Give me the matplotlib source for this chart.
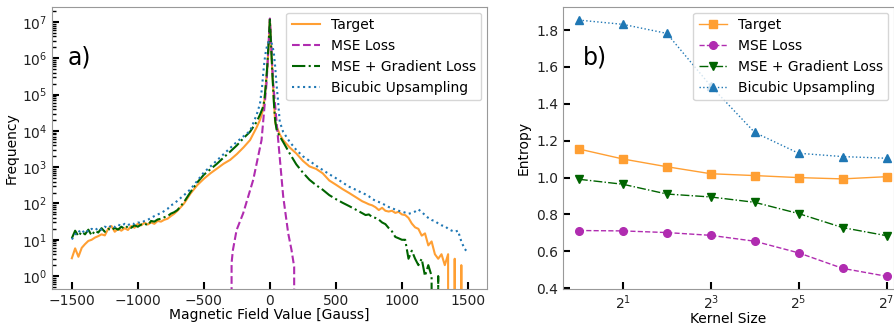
import numpy as np
import matplotlib
matplotlib.use("Agg")
import matplotlib.pyplot as plt
from matplotlib.ticker import NullLocator, NullFormatter

# ---- panel a) histogram of magnetic field values ----
field_bins = [-1500, -1475, -1450, -1425, -1400, -1375, -1350, -1325, -1300, -1275,
              -1250, -1225, -1200, -1175, -1150, -1125, -1100, -1075, -1050, -1025,
              -1000, -975, -950, -925, -900, -875, -850, -825, -800, -775,
              -750, -725, -700,
              -650, -600, -550, -500, -450, -400, -350, -300, -250, -200,
              -150, -100, -75, -60, -50, -40, -30, -20, -10, 0,
              10, 20, 30, 40, 50, 60, 75, 100, 150, 200,
              250, 300, 350, 400, 450, 500, 550, 600, 650,
              700, 725, 750, 775, 800, 825, 850, 875, 900, 925,
              950, 975, 1000, 1025, 1050, 1075, 1100, 1125, 1150, 1175,
              1200, 1225, 1250, 1275, 1300, 1325, 1350, 1375, 1400, 1425,
              1450, 1475, 1500]

target_hist = [3.1, 5.8, 3.4, 6.0, 7.6, 9.3, 10, 11.5, 12.6, 14.1,
               13.2, 20, 24, 16.6, 20, 17.8, 20.9, 18.6, 24, 21.4,
               28, 25, 29.5, 26.3, 30, 27.5, 33, 31.6, 35.5, 38,
               45, 52, 63,
               100, 190, 320, 480, 680, 920, 1250, 1600, 2300, 3500,
               5600, 12600, 20000, 30000, 40000, 79000, 2e5, 5e5, 2e6, 1.2e7,
               2e6, 3.2e5, 8e4, 17000, 13000, 11000, 8000, 5600, 3500, 2400,
               1500, 1050, 900, 680, 430, 330, 250, 195, 150,
               115, 105, 95, 89, 79, 66, 76, 63, 60, 63,
               55, 59, 50, 48, 40, 28, 22, 20, 13, 15,
               7, 9, 4, 3, 4, 2, 4, 0, 3, 0,
               2, 0, 0]

mse_bins = [-292, -290, -280, -252, -202, -126, -63, -25, 0,
            25, 63, 101, 139, 164, 184, 186]
mse_hist = [0, 2.3, 5.2, 18.6, 54, 450, 5600, 2.1e5, 1.25e7,
            2.1e5, 5600, 155, 15, 5.2, 1.8, 0]

grad_hist = [11, 17.8, 12.6, 16.6, 14.1, 19, 13.2, 17.8, 15.8, 20.9,
             16.6, 20, 18.2, 21.4, 19, 22.9, 20, 24, 21.4, 25,
             22.9, 26.3, 28.2, 25, 33, 31.6, 36.3, 38, 41.7, 44.7,
             52.5, 57.5, 66,
             110, 210, 380, 620, 880, 1250, 1850, 2700, 4000, 6300,
             9500, 17800, 28000, 38000, 48000, 79000, 2e5, 6e5, 2.5e6, 1.17e7,
             2e6, 3.2e5, 6.3e4, 20000, 11200, 9000, 7100, 5000, 2400, 1200,
             710, 450, 320, 240, 170, 132, 105, 85, 68,
             54, 48, 50, 42, 40, 36, 30, 27, 21, 17,
             12, 11, 10, 10, 3, 5, 3, 2, 3, 1,
             2, 1, 0, 1, 0, 0, 0, 0, 0, 0,
             0, 0, 0]

bicubic_hist = [10.2, 14, 17.8, 15, 19, 16.6, 20, 18.2, 21.4, 19,
                23, 21, 25, 22.4, 26.3, 24, 27.5, 25, 29, 27,
                30, 29, 33, 35.5, 40, 45, 50, 54, 62, 71,
                89, 98, 120,
                170, 250, 420, 720, 1050, 1550, 2300, 3400, 5000, 7100,
                10000, 28000, 56000, 1.5e5, 4e5, 9e5, 1.6e6, 2.3e6, 2.8e6, 3e6,
                2.8e6, 2.2e6, 1.4e6, 6e5, 2e5, 8e4, 18000, 9500, 5000, 3000,
                2000, 1500, 1100, 840, 640, 500, 380, 290, 240,
                195, 178, 158, 132, 120, 110, 100, 90, 80, 74,
                68, 63, 60, 56, 52, 55, 60, 69, 58, 48,
                40, 35, 33, 28, 25, 24, 20, 18, 16.6, 17.8,
                9, 5.6, 4.5]

# ---- panel b) entropy vs kernel size ----
kernel_sizes = [1, 2, 4, 8, 16, 32, 64, 128]
target_entropy = [1.155, 1.101, 1.059, 1.021, 1.011, 1.000, 0.993, 1.005]
mse_entropy = [0.713, 0.711, 0.702, 0.687, 0.655, 0.592, 0.508, 0.465]
grad_entropy = [0.991, 0.964, 0.911, 0.895, 0.866, 0.805, 0.729, 0.685]
bicubic_entropy = [1.854, 1.831, 1.782, 1.497, 1.245, 1.132, 1.114, 1.105]

labels = ["Target", "MSE Loss", "MSE + Gradient Loss", "Bicubic Upsampling"]
c_target = "#ff9f33"
c_mse = "#b02cb0"
c_grad = "#006400"
c_bic = "#1f77b4"

plt.rcParams["font.size"] = 10
fig = plt.figure(figsize=(8.94, 3.27), dpi=100)
ax1 = fig.add_axes([0.0582, 0.1162, 0.4866, 0.8624])
ax2 = fig.add_axes([0.6298, 0.1162, 0.3702, 0.8624])

ax1.set_yscale("log")
ax1.plot(field_bins, target_hist, color=c_target, lw=1.5, label=labels[0])
ax1.plot(mse_bins, mse_hist, color=c_mse, lw=1.5, ls="--", label=labels[1])
ax1.plot(field_bins, grad_hist, color=c_grad, lw=1.5, ls="-.", label=labels[2])
ax1.plot(field_bins, bicubic_hist, color=c_bic, lw=1.5, ls=":", label=labels[3])
ax1.set_xlim(-1650, 1645)
ax1.set_ylim(0.44, 2.6e7)
ax1.set_xticks([-1500, -1000, -500, 0, 500, 1000, 1500])
decades = [10.0 ** k for k in range(8)]
ax1.set_yticks(decades)
ax1.set_yticks([d * s for d in [0.1] + decades for s in range(2, 10)
                if 0.44 < d * s < 2.6e7], minor=True)
ax1.yaxis.set_minor_formatter(NullFormatter())
ax1.set_xlabel("Magnetic Field Value [Gauss]", labelpad=0)
ax1.set_ylabel("Frequency", labelpad=2)
ax1.text(0.035, 0.82, "a)", transform=ax1.transAxes, fontsize=17, va="center")
ax1.legend(loc="upper right", fontsize=10, borderaxespad=0.4)

ax2.set_xscale("log", base=2)
ax2.plot(kernel_sizes, target_entropy, color=c_target, lw=1, marker="s", ms=5.5, label=labels[0])
ax2.plot(kernel_sizes, mse_entropy, color=c_mse, lw=1, ls="--", marker="o", ms=5.5, label=labels[1])
ax2.plot(kernel_sizes, grad_entropy, color=c_grad, lw=1, ls="-.", marker="v", ms=5.5, label=labels[2])
ax2.plot(kernel_sizes, bicubic_entropy, color=c_bic, lw=1, ls=":", marker="^", ms=5.5, label=labels[3])
ax2.set_xlim(2 ** -0.36, 2 ** 7.17)
ax2.set_ylim(0.396, 1.925)
ax2.set_xticks([2, 8, 32, 128])
ax2.xaxis.set_minor_locator(NullLocator())
ax2.set_yticks([0.4, 0.6, 0.8, 1.0, 1.2, 1.4, 1.6, 1.8])
ax2.set_xlabel("Kernel Size", labelpad=0)
ax2.set_ylabel("Entropy", labelpad=4)
ax2.text(0.06, 0.82, "b)", transform=ax2.transAxes, fontsize=17, va="center")
ax2.legend(loc="upper right", fontsize=10, borderaxespad=0.4)

for ax in (ax1, ax2):
    for sp in ax.spines.values():
        sp.set_color("#999999")
    ax.tick_params(which="major", direction="in", length=5, width=1.5, colors="black")
    ax.tick_params(which="minor", direction="in", length=3, width=1, colors="black")
    ax.tick_params(labelcolor="#222222")

fig.savefig("out.png", dpi=100)
